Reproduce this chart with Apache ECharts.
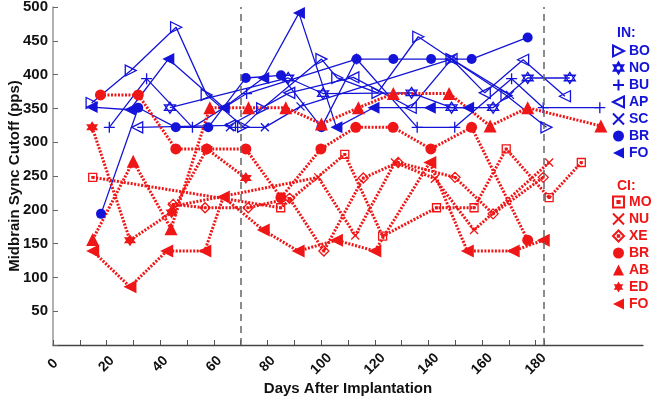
<!DOCTYPE html>
<html>
<head>
<meta charset="utf-8">
<script src="https://cdn.jsdelivr.net/npm/echarts@6/dist/echarts.min.js"></script>
<style>
html, body { margin: 0; padding: 0; background: #fff; }
#chart { width: 653px; height: 400px; }
</style>
</head>
<body>
<div id="chart"></div>
<script>
// IN group (blue, solid lines): [day, pps]
var inBO = [[14.4,358],[29,406],[45.9,470],[57.3,370],[70.9,323],[78,350],[100.1,423],[106,395],[121,373],[136.2,456],[148.6,423],[169.1,369],[184,322]];
var inNO = [[43.6,351],[87.7,395],[100.7,372],[133.7,373],[148.6,351],[164.1,351],[177,395],[192.7,395]];
var inBU = [[21,322],[34.9,394],[52,322],[72.2,372],[113.2,423],[135.8,322],[149.8,322],[171,394],[182.8,351],[203.9,351]];
var inAP = [[31.4,322],[66,325],[88.1,373],[112,396],[133.4,351],[148.6,423],[161,373],[175.3,422],[190.9,368]];
var inSC = [[66,322],[79,322],[92.3,353],[148.6,423],[170.4,370]];
var inBR = [[17.9,194],[31.8,351],[45.8,322],[57.9,322],[71.9,395],[85,399],[100.1,322],[113.2,423],[126.9,423],[141,423],[156.1,423],[177,455]];
var inFO = [[14.4,352],[28.7,348],[43,423],[63.7,351],[78.4,395],[91.7,491],[105.7,322],[119.5,351],[140.5,351],[154.8,351]];

// CI group (red, dotted lines)
var ciMO = [[14.8,248],[84.9,203],[108.8,282],[122.9,161],[143,203],[157,203],[169,290],[185,218],[197,270]];
var ciNU = [[44.5,205],[98.9,248],[112.7,162],[127.5,270],[142.4,246],[157,170],[185,270]];
var ciXE = [[44.8,208],[56.7,203],[72.8,203],[88.2,217],[101,139],[115.7,247],[128.7,270],[149.9,248],[164.1,194],[182.8,248]];
var ciBR = [[17.7,370],[31.8,370],[45.8,290],[57.3,290],[71.9,290],[85,218],[99.9,290],[112.9,322],[126.8,322],[140.9,290],[156.1,322],[177,155]];
var ciAB = [[14.8,156],[29.9,272],[44,172],[58.5,351],[72.9,351],[86.8,351],[100.1,327],[113.9,351],[126.9,372],[147.7,372],[163,324],[177,351],[204.3,324]];
var ciED = [[14.6,322],[28.7,155],[44.2,196],[57.4,290],[71.9,247]];
var ciFO = [[14.8,139],[28.7,86],[42.4,139],[56.6,139],[63.5,219],[78.4,170],[91.4,139],[105.7,155],[120,139],[140.5,270],[154.5,139],[171.6,139],[182.8,155]];

var xTicks = [0,10,20,30,40,50,60,70,80,90,100,110,120,130,140,150,160,170,180,183];
var xLabels = [0,20,40,60,80,100,120,140,160,180];
var studyEnds = [70, 183];

var BLUE = '#1414d8';
var RED = '#ee1616';
var FONT = '"Liberation Sans", Arial, sans-serif';

// marker shapes
var triRight = 'path://M0,0 L10,5 L0,10 Z';
var triLeft = 'path://M10,0 L0,5 L10,10 Z';
var hexStar = 'path://M5,0 L9.33,7.5 L0.67,7.5 Z M5,10 L0.67,2.5 L9.33,2.5 Z';
var plus = 'path://M5,0 L5,10 M0,5 L10,5';
var cross = 'path://M0,0 L10,10 M10,0 L0,10';
var sqDot = 'path://M0,0 L10,0 L10,10 L0,10 Z M4,4 L6,4 L6,6 L4,6 Z';
var diaDot = 'path://M5,0 L10,5 L5,10 L0,5 Z M4.3,4.3 L5.7,4.3 L5.7,5.7 L4.3,5.7 Z';

function mk(name, data, sym, size, open, col, dotted) {
    return {
        name: name,
        type: 'line',
        data: data,
        symbol: sym,
        symbolSize: size,
        showSymbol: true,
        animation: false,
        silent: true,
        itemStyle: open ? {color: 'rgba(255,255,255,0)', borderColor: col, borderWidth: 1.3}
                        : {color: col, borderWidth: 0},
        lineStyle: dotted ? {color: col, width: 3, type: [2, 1.5]} : {color: col, width: 1.3},
        emphasis: {disabled: true}
    };
}

var series = [
    mk('IN BO', inBO, triRight, 11, true, BLUE),
    mk('IN NO', inNO, hexStar, 11, true, BLUE),
    mk('IN BU', inBU, plus, 11, true, BLUE),
    mk('IN AP', inAP, triLeft, 11, true, BLUE),
    mk('IN SC', inSC, cross, 8, true, BLUE),
    mk('IN BR', inBR, 'circle', 10, false, BLUE),
    mk('IN FO', inFO, triLeft, 12, false, BLUE),
    mk('CI MO', ciMO, sqDot, 8, true, RED, true),
    mk('CI NU', ciNU, cross, 8, true, RED, true),
    mk('CI XE', ciXE, diaDot, 10, true, RED, true),
    mk('CI BR', ciBR, 'circle', 11, false, RED, true),
    mk('CI AB', ciAB, 'triangle', 13, false, RED, true),
    mk('CI ED', ciED, hexStar, 12, false, RED, true),
    mk('CI FO', ciFO, triLeft, 13, false, RED, true)
];

// vertical dashed reference lines
series[0].markLine = {
    silent: true,
    symbol: ['none', 'none'],
    label: {show: false},
    lineStyle: {color: '#666', width: 1.5, type: [7, 5]},
    data: studyEnds.map(function (d) { return {xAxis: d}; })
};

function legendData(names) {
    return names.map(function (n) {
        var s = series.filter(function (x) { return x.name === n; })[0];
        return {name: n, icon: s.symbol};
    });
}

var chart = echarts.init(document.getElementById('chart'));
chart.setOption({
    backgroundColor: '#fff',
    textStyle: {fontFamily: FONT},
    title: [
        {text: 'IN:', left: 617, top: 26, padding: 0, textStyle: {color: BLUE, fontSize: 14, fontWeight: 'bold', fontFamily: FONT}},
        {text: 'CI:', left: 617, top: 179, padding: 0, textStyle: {color: RED, fontSize: 14, fontWeight: 'bold', fontFamily: FONT}}
    ],
    legend: [{
        left: 612, top: 44, orient: 'vertical', padding: 0,
        itemWidth: 11, itemHeight: 11, itemGap: 3,
        selectedMode: false,
        data: legendData(['IN BO','IN NO','IN BU','IN AP','IN SC','IN BR','IN FO']),
        formatter: function (n) { return n.slice(3); },
        textStyle: {color: BLUE, fontSize: 14, fontWeight: 'bold', lineHeight: 14, fontFamily: FONT}
    }, {
        left: 612, top: 195, orient: 'vertical', padding: 0,
        itemWidth: 11, itemHeight: 11, itemGap: 3,
        selectedMode: false,
        data: legendData(['CI MO','CI NU','CI XE','CI BR','CI AB','CI ED','CI FO']),
        formatter: function (n) { return n.slice(3); },
        textStyle: {color: RED, fontSize: 14, fontWeight: 'bold', lineHeight: 14, fontFamily: FONT}
    }],
    grid: {left: 53, right: 10, top: 7, bottom: 55, containLabel: false, outerBoundsMode: 'none'},
    xAxis: {
        type: 'value',
        min: 0, max: 220, interval: 10,
        name: 'Days After Implantation',
        nameLocation: 'middle',
        nameGap: 36,
        nameMoveOverlap: false,
        nameTextStyle: {fontSize: 15, fontWeight: 'bold', color: '#111', fontFamily: FONT},
        axisLine: {lineStyle: {color: '#444', width: 1.3}},
        axisTick: {inside: true, length: 5, customValues: xTicks, lineStyle: {color: '#555'}},
        axisLabel: {rotate: 45, align: 'center', verticalAlign: 'middle', customValues: xLabels,
            fontSize: 14, fontWeight: 'bold', color: '#111', margin: 19, fontFamily: FONT},
        splitLine: {show: false}
    },
    yAxis: {
        type: 'value',
        min: 0, max: 500, interval: 50,
        name: 'Midbrain Sync Cutoff (pps)',
        nameLocation: 'middle',
        nameGap: 31,
        nameMoveOverlap: false,
        nameTextStyle: {fontSize: 15, fontWeight: 'bold', color: '#111', fontFamily: FONT},
        axisLine: {show: true, lineStyle: {color: '#999', width: 1.5}},
        axisTick: {show: true, inside: true, length: 5, lineStyle: {color: '#666'}},
        axisLabel: {fontSize: 15, fontWeight: 'bold', color: '#111', margin: 5, fontFamily: FONT,
            formatter: function (v) { return v === 0 ? '' : v; }},
        splitLine: {show: false}
    },
    series: series
});
</script>
</body>
</html>
